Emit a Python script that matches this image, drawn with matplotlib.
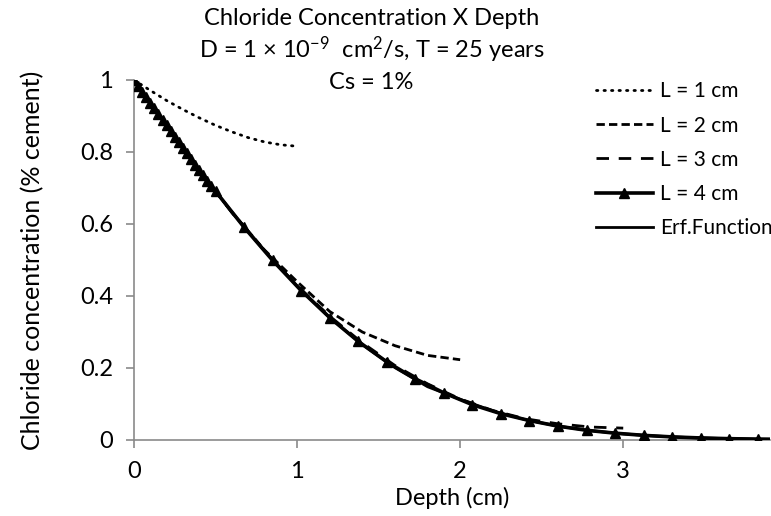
import matplotlib
matplotlib.use("Agg")
import matplotlib.pyplot as plt

plt.rcParams['font.family'] = ['Lato', 'DejaVu Sans']
plt.rcParams['mathtext.fontset'] = 'custom'
plt.rcParams['mathtext.rm'] = 'Lato'
plt.rcParams['mathtext.it'] = 'Lato'
plt.rcParams['mathtext.default'] = 'regular'

# ---- data ----
x_L1 = [0.0, 0.1, 0.2, 0.3, 0.4, 0.5, 0.6, 0.7, 0.8, 0.9, 1.0]
y_L1 = [1.0, 0.971, 0.943, 0.918, 0.895, 0.874, 0.856, 0.840, 0.828, 0.820, 0.816]

x_L2 = [0.0, 0.2, 0.4, 0.6, 0.8, 1.0, 1.2, 1.4, 1.6, 1.8, 2.0]
y_L2 = [1.0, 0.874, 0.750, 0.633, 0.528, 0.440, 0.357, 0.300, 0.262, 0.235, 0.223]

x_L3 = [0.0, 0.2, 0.4, 0.6, 0.8, 1.0, 1.2, 1.4, 1.6, 1.8, 2.0, 2.2, 2.4, 2.6, 2.8, 3.0]
y_L3 = [1.0, 0.874, 0.750, 0.632, 0.526, 0.429, 0.344, 0.270, 0.207, 0.156, 0.114,
        0.082, 0.059, 0.045, 0.036, 0.033]

x_L4 = [0.0, 0.025, 0.05, 0.075, 0.1, 0.125, 0.15, 0.175, 0.2, 0.225, 0.25, 0.275,
        0.3, 0.325, 0.35, 0.375, 0.4, 0.425, 0.45, 0.475, 0.5,
        0.675, 0.85, 1.025, 1.2, 1.375, 1.55, 1.725, 1.9, 2.075, 2.25, 2.425,
        2.6, 2.775, 2.95, 3.125, 3.3, 3.475, 3.65, 3.825, 4.0]
y_L4 = [1.0, 0.984, 0.968, 0.952, 0.937, 0.921, 0.905, 0.889, 0.874, 0.858, 0.842,
        0.827, 0.811, 0.796, 0.781, 0.765, 0.750, 0.735, 0.720, 0.705, 0.691,
        0.591, 0.499, 0.415, 0.340, 0.274, 0.217, 0.170, 0.131, 0.098, 0.073, 0.054,
        0.0385, 0.027, 0.019, 0.0129, 0.0086, 0.0057, 0.0037, 0.0024, 0.0016]

x_erf = [0.0, 0.2, 0.4, 0.6, 0.8, 1.0, 1.2, 1.4, 1.6, 1.8, 2.0, 2.2, 2.4, 2.6,
         2.8, 3.0, 3.2, 3.4, 3.6, 3.8, 4.0]
y_erf = [1.0, 0.874, 0.750, 0.633, 0.526, 0.428, 0.340, 0.265, 0.201, 0.148, 0.113,
         0.081, 0.0565, 0.0385, 0.026, 0.017, 0.011, 0.0068, 0.0042, 0.0026, 0.0016]

labels = ["L = 1 cm", "L = 2 cm", "L = 3 cm", "L = 4 cm", "Erf.Function"]
x_ticks = [0, 1, 2, 3]
y_ticks = [0, 0.2, 0.4, 0.6, 0.8, 1.0]
y_ticklabels = ["0", "0.2", "0.4", "0.6", "0.8", "1"]

# ---- figure ----
fig = plt.figure(figsize=(7.71, 5.16), dpi=100)
ax = fig.add_axes([134/771, 76/516, 636/771, 360/516])

ax.plot(x_L1, y_L1, color='black', lw=2.0, linestyle=(0, (0.5, 2.2)),
        dash_capstyle='round', label=labels[0], zorder=3)
ax.plot(x_L2, y_L2, color='black', lw=2.0, linestyle=(0, (3.0, 1.5)),
        label=labels[1], zorder=3)
ax.plot(x_L3, y_L3, color='black', lw=2.0, linestyle=(0, (4.5, 3.5)),
        label=labels[2], zorder=3)
ax.plot(x_L4, y_L4, color='black', lw=2.6, marker='^', markersize=7,
        label=labels[3], zorder=4)
ax.plot(x_erf, y_erf, color='black', lw=2.0, label=labels[4], zorder=5)

ax.set_xlim(0, 3.9)
ax.set_ylim(0, 1.0)
ax.set_xticks(x_ticks)
ax.set_xticklabels([str(t) for t in x_ticks])
ax.set_yticks(y_ticks)
ax.set_yticklabels(y_ticklabels)

for s in ['top', 'right']:
    ax.spines[s].set_visible(False)
for s in ['left', 'bottom']:
    ax.spines[s].set_color('#8a8a8a')
    ax.spines[s].set_linewidth(1.2)
ax.tick_params(axis='both', direction='out', length=6, width=1.2, color='#8a8a8a',
               labelsize=17, pad=9, labelcolor='black')

ax.set_xlabel("Depth (cm)", fontsize=17, labelpad=4)
ax.set_ylabel("Chloride concentration (% cement)", fontsize=18, labelpad=26)

fig.text(0.482, 0.965, "Chloride Concentration X Depth", ha='center', va='center',
         fontsize=17)
fig.text(0.482, 0.903, r"D = 1 × 10$^{−9}$  cm$^{2}$/s, T = 25 years",
         ha='center', va='center', fontsize=17)
fig.text(0.482, 0.840, "Cs = 1%", ha='center', va='center', fontsize=17)

leg = ax.legend(loc='upper left', bbox_to_anchor=(588/771, 443/516),
                bbox_transform=fig.transFigure, frameon=False, fontsize=15,
                handlelength=2.7, handletextpad=0.35, labelspacing=0.68,
                borderaxespad=0)

fig.savefig("out.png", dpi=100)
